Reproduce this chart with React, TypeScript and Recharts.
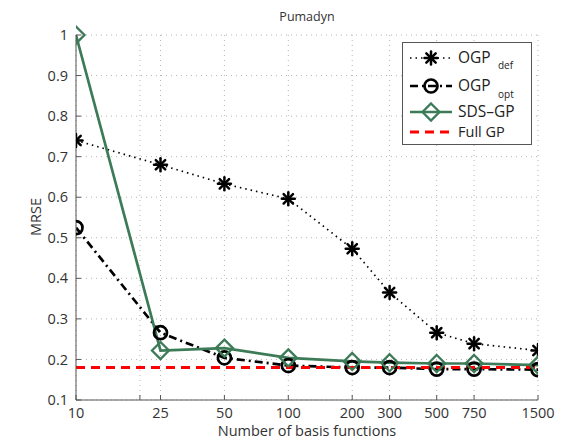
import React from "react"
import { LineChart, Line, XAxis, YAxis, CartesianGrid, ReferenceLine } from "recharts"

const basisCounts = [10, 25, 50, 100, 200, 300, 500, 750, 1500]
const ogpDef = [0.74, 0.68, 0.633, 0.596, 0.473, 0.365, 0.266, 0.239, 0.222]
const ogpOpt = [0.525, 0.266, 0.204, 0.185, 0.18, 0.18, 0.176, 0.176, 0.175]
const sdsGp = [1.0, 0.222, 0.228, 0.204, 0.195, 0.192, 0.19, 0.19, 0.186]
const fullGp = 0.18

const xTicks = [10, 20, 25, 50, 100, 200, 300, 500, 750, 1500]
const xTickLabels: Record<number, string> = {
  10: "10", 25: "25", 50: "50", 100: "100", 200: "200",
  300: "300", 500: "500", 750: "750", 1500: "1500",
}
const yTicks = [0.1, 0.2, 0.3, 0.4, 0.5, 0.6, 0.7, 0.8, 0.9, 1]

const GREEN = "#3d7b58"
const FONT = "'Open Sans', sans-serif"

const rows = basisCounts.map((n, i) => ({
  n,
  def: ogpDef[i],
  opt: ogpOpt[i],
  sds: sdsGp[i],
}))

const StarMark = ({ cx, cy }: any) => {
  if (cx == null || cy == null) return null
  const r = 6.5
  const d = r * 0.72
  return (
    <g stroke="#000" strokeWidth={2.5} strokeLinecap="round">
      <line x1={cx - r} y1={cy} x2={cx + r} y2={cy} />
      <line x1={cx} y1={cy - r} x2={cx} y2={cy + r} />
      <line x1={cx - d} y1={cy - d} x2={cx + d} y2={cy + d} />
      <line x1={cx - d} y1={cy + d} x2={cx + d} y2={cy - d} />
    </g>
  )
}

const CircleMark = ({ cx, cy }: any) => {
  if (cx == null || cy == null) return null
  return <circle cx={cx} cy={cy} r={6.5} fill="none" stroke="#000" strokeWidth={2.7} />
}

const DiamondMark = ({ cx, cy }: any) => {
  if (cx == null || cy == null) return null
  const r = 8.5
  return (
    <path
      d={`M${cx},${cy - r}L${cx + r},${cy}L${cx},${cy + r}L${cx - r},${cy}Z`}
      fill="none"
      stroke={GREEN}
      strokeWidth={2.3}
    />
  )
}

// legend drawn by hand so the OGP subscripts sit like the MATLAB ones
const LegendBox = () => {
  const sx1 = 8
  const sx2 = 50
  const mx = 29
  return (
    <svg width={130} height={103} style={{ display: "block" }}>
      <rect x={0.5} y={0.5} width={129} height={102} fill="#fff" stroke="#555" />
      <g fontFamily={FONT} fill="#222">
        <line x1={sx1} y1={16} x2={sx2} y2={16} stroke="#000" strokeWidth={1.6} strokeDasharray="1.5 4" />
        <StarMark cx={mx} cy={16} />
        <text x={56} y={21} fontSize={15.5}>OGP</text>
        <text x={96} y={27} fontSize={10}>def</text>

        <line x1={sx1} y1={44} x2={sx2} y2={44} stroke="#000" strokeWidth={2.7} strokeDasharray="8 4 2 4" />
        <CircleMark cx={mx} cy={44} />
        <text x={56} y={49} fontSize={15.5}>OGP</text>
        <text x={96} y={56} fontSize={10}>opt</text>

        <line x1={sx1} y1={70} x2={sx2} y2={70} stroke={GREEN} strokeWidth={2.7} />
        <DiamondMark cx={mx} cy={70} />
        <text x={56} y={75} fontSize={15.5}>SDS–GP</text>

        <line x1={sx1} y1={90} x2={sx2} y2={90} stroke="#f00" strokeWidth={3} strokeDasharray="9 6" />
        <text x={56} y={95} fontSize={14.5}>Full GP</text>
      </g>
    </svg>
  )
}

export default function App() {
  return (
    <div style={{ position: "absolute", left: 0, top: 0, width: 562, height: 441, background: "#fff", fontFamily: FONT }}>
      <LineChart width={562} height={441} data={rows} margin={{ top: 35, right: 24, bottom: 11, left: 0 }}>
        <CartesianGrid stroke="#b5b5b5" strokeDasharray="1 4" verticalValues={xTicks} horizontalValues={yTicks} />
        <XAxis
          dataKey="n"
          type="number"
          scale="log"
          domain={[10, 1500]}
          ticks={xTicks}
          tickFormatter={(v: number) => xTickLabels[v] ?? ""}
          allowDataOverflow
          height={30}
          stroke="#555"
          tickSize={-5}
          tickMargin={13}
          tick={{ fill: "#333", fontSize: 14.5, fontFamily: FONT }}
          interval={0}
        />
        <XAxis
          xAxisId="top"
          orientation="top"
          dataKey="n"
          type="number"
          scale="log"
          domain={[10, 1500]}
          ticks={xTicks}
          allowDataOverflow
          height={0}
          stroke="#555"
          tickSize={-5}
          tick={false}
          interval={0}
        />
        <YAxis
          type="number"
          domain={[0.1, 1]}
          ticks={yTicks}
          width={76}
          stroke="#555"
          tickSize={-5}
          tickMargin={13}
          tickFormatter={(v: number) => String(Math.round(v * 10) / 10)}
          tick={{ fill: "#333", fontSize: 14.5, fontFamily: FONT }}
          interval={0}
        />
        <YAxis
          yAxisId="right"
          orientation="right"
          type="number"
          domain={[0.1, 1]}
          ticks={yTicks}
          width={0}
          stroke="#555"
          tickSize={-5}
          tick={false}
          interval={0}
        />
        <Line
          dataKey="def"
          stroke="#000"
          strokeWidth={1.7}
          strokeDasharray="1.5 4"
          dot={<StarMark />}
          activeDot={false}
          isAnimationActive={false}
        />
        <Line
          dataKey="opt"
          stroke="#000"
          strokeWidth={2.7}
          strokeDasharray="8 4 2 4"
          dot={<CircleMark />}
          activeDot={false}
          isAnimationActive={false}
        />
        <Line
          dataKey="sds"
          stroke={GREEN}
          strokeWidth={2.7}
          dot={<DiamondMark />}
          activeDot={false}
          isAnimationActive={false}
        />
        <ReferenceLine y={fullGp} stroke="#f00" strokeWidth={3} strokeDasharray="9 6" />
      </LineChart>
      <div style={{ position: "absolute", left: 76, width: 462, top: 8, textAlign: "center", fontSize: 12.5, color: "#333" }}>
        Pumadyn
      </div>
      <div style={{ position: "absolute", left: 76, width: 462, top: 421, textAlign: "center", fontSize: 14.5, color: "#333" }}>
        Number of basis functions
      </div>
      <div
        style={{
          position: "absolute",
          left: 35,
          top: 217,
          transform: "translate(-50%, -50%) rotate(-90deg)",
          fontSize: 14.5,
          color: "#333",
          whiteSpace: "nowrap",
        }}
      >
        MRSE
      </div>
      <div style={{ position: "absolute", left: 402, top: 42 }}>
        <LegendBox />
      </div>
    </div>
  )
}
